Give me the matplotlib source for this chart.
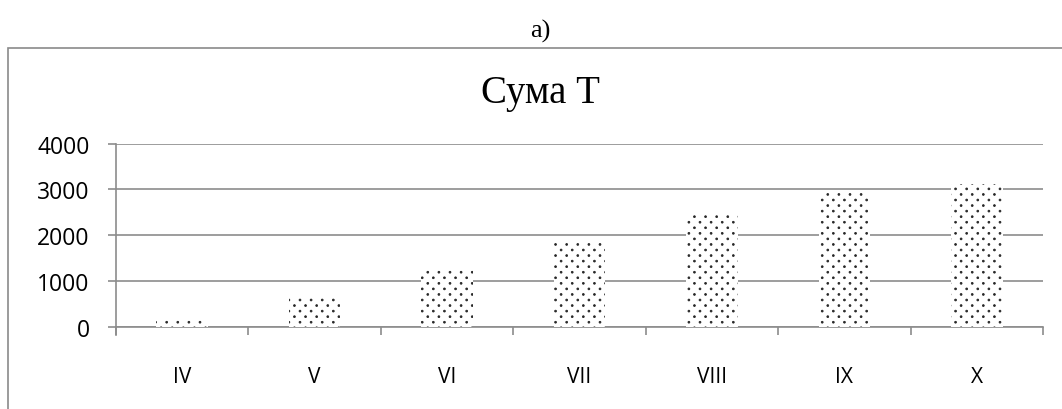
import numpy as np
import matplotlib
matplotlib.use("Agg")
import matplotlib.pyplot as plt
import matplotlib.hatch as mhatch
from matplotlib.path import Path
from matplotlib.patches import Rectangle
from matplotlib.transforms import blended_transform_factory

months = ["IV", "V", "VI", "VII", "VIII", "IX", "X"]
sum_t = [180, 660, 1260, 1850, 2470, 2930, 3110]
y_ticks = [0, 1000, 2000, 3000, 4000]

DOT_COLS = 9      # dots per hatch tile row
DOT_R = 0.009     # dot radius in hatch-tile units


class StaggeredDots(mhatch.HatchPatternBase):
    """Small filled dots on a staggered lattice, used for the '.' hatch."""

    def __init__(self, hatch, density):
        circle = Path.unit_circle()
        self.shape_vertices = circle.vertices
        self.shape_codes = circle.codes
        if "." in hatch:
            centres = []
            n_rows = 2 * DOT_COLS
            for r in range(n_rows + 1):
                y = r / n_rows
                if r % 2 == 0:
                    xs = np.linspace(0, 1, DOT_COLS + 1)
                else:
                    xs = np.linspace(0.5 / DOT_COLS, 1 - 0.5 / DOT_COLS, DOT_COLS)
                centres.extend((x, y) for x in xs)
            self.centres = np.array(centres)
            self.num_vertices = len(self.centres) * len(self.shape_vertices)
        else:
            self.centres = np.empty((0, 2))
            self.num_vertices = 0

    def set_vertices_and_codes(self, vertices, codes):
        n = len(self.shape_vertices)
        for i, (cx, cy) in enumerate(self.centres):
            vertices[i * n:(i + 1) * n] = self.shape_vertices * DOT_R + (cx, cy)
            codes[i * n:(i + 1) * n] = self.shape_codes


mhatch._hatch_types = [StaggeredDots if t is mhatch.SmallFilledCircles else t
                       for t in mhatch._hatch_types]

plt.rcParams["hatch.linewidth"] = 0.6

W, H = 1062, 410
fig = plt.figure(figsize=(W / 100, H / 100), dpi=100)


def fx(px):
    return px / W


def fy(py):
    return 1 - py / H


# outer chart frame
fig.patches.append(Rectangle((fx(8), fy(430)), fx(1080) - fx(8), fy(48.5) - fy(430),
                             transform=fig.transFigure, fill=False,
                             edgecolor="#8a8a8a", linewidth=1.2))

fig.text(fx(540), fy(38), "а)", ha="center", va="baseline",
         family="Liberation Serif", fontsize=19)
fig.text(fx(540), fy(103), "Сума Т", ha="center", va="baseline",
         family="Liberation Serif", fontsize=28)

left, right, top, bottom = 116, 1043, 144.5, 328.3
ax = fig.add_axes([fx(left), fy(bottom), fx(right) - fx(left), fy(top) - fy(bottom)])

grid_c = "#8c8c8c"
x = list(range(len(months)))
ax.bar(x, sum_t, width=0.39, color="white", edgecolor="#262626", linewidth=0,
       hatch=".", zorder=3)

ax.set_xlim(-0.5, len(months) - 0.5)
ax.set_ylim(0, 4000)
ax.set_yticks(y_ticks)
ax.set_yticklabels([str(v) for v in y_ticks], family="Open Sans", fontsize=16.5)
ax.yaxis.grid(True, color=grid_c, linewidth=1.2, zorder=0)
ax.set_axisbelow(True)

ax.set_xticks([i - 0.5 for i in range(len(months) + 1)])
ax.set_xticklabels([])
ax.tick_params(axis="x", direction="out", length=6, color=grid_c, width=1.2)
ax.tick_params(axis="y", direction="out", length=6, color=grid_c, width=1.2, pad=13)

label_tr = blended_transform_factory(ax.transData, fig.transFigure)
for xi, name in zip(x, months):
    ax.text(xi, fy(383), name, transform=label_tr, ha="center", va="baseline",
            family="Open Sans", fontsize=15)

for s in ["top", "right"]:
    ax.spines[s].set_visible(False)
ax.spines["left"].set_color(grid_c)
ax.spines["left"].set_linewidth(1.2)
ax.spines["left"].set_bounds(-170, 4000)
ax.spines["bottom"].set_color(grid_c)
ax.spines["bottom"].set_linewidth(1.2)

fig.savefig("out.png", dpi=100)
